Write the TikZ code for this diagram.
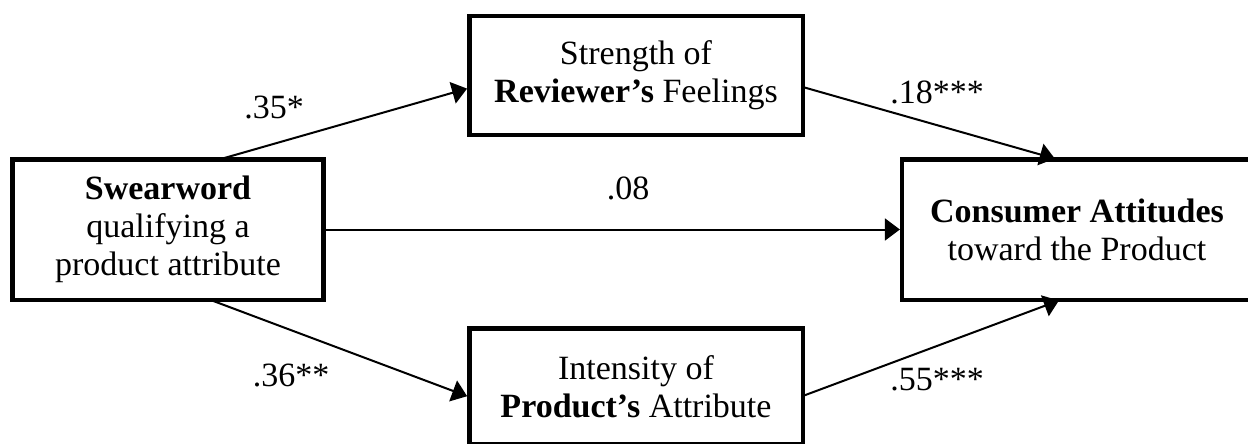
\documentclass[tikz,border=0pt]{standalone}
\usepackage{fontspec}
\setmainfont{Liberation Serif}
\usetikzlibrary{arrows.meta}
\tikzset{
  box/.style={draw, line width=4.5pt, outer sep=0pt, inner sep=0pt,
    align=center, font=\fontsize{34}{38}\selectfont},
  coef/.style={inner sep=0pt, font=\fontsize{34}{38}\selectfont},
  path arrow/.style={line width=2pt, -{Triangle[length=15pt,width=22pt]},
    shorten >=2.25pt}
}
\begin{document}
\begin{tikzpicture}[x=1pt, y=-1pt]
\useasboundingbox (0,0) rectangle (1248,444);

% variables
\node[box, minimum width=311pt, minimum height=140.5pt] (sw) at (168,229.5)
  {\textbf{Swearword}\\qualifying a\\product attribute};
\node[box, minimum width=333.5pt, minimum height=118.5pt] (rf) at (636,75.5)
  {Strength of\\\textbf{Reviewer’s} Feelings};
\node[box, minimum width=333.5pt, minimum height=116.25pt] (pa) at (636,386.4)
  {Intensity of\\\textbf{Product’s} Attribute};
\node[box, minimum width=349.75pt, minimum height=140.5pt] (ca) at (1077,229.5)
  {\textbf{Consumer Attitudes}\\toward the Product};

% paths
\draw[path arrow] (sw.north -| 220,0) -- (rf.west |- 0,88);
\draw[path arrow] (rf.east |- 0,87) -- (ca.north -| 1057,0);
\draw[path arrow] (sw.east) -- (ca.west);
\draw[path arrow] (sw.south -| 210,0) -- (pa.west |- 0,397);
\draw[path arrow] (pa.east |- 0,396) -- (ca.south -| 1061,0);

% path coefficients
\node[coef] (c1) at (274,107) {.35*};
\node[coef] (c2) at (937,92) {.18***};
\node[coef] (c3) at (628,188) {.08};
\node[coef] (c4) at (291,375) {.36**};
\node[coef] (c5) at (937,380) {.55***};
\end{tikzpicture}
\end{document}
